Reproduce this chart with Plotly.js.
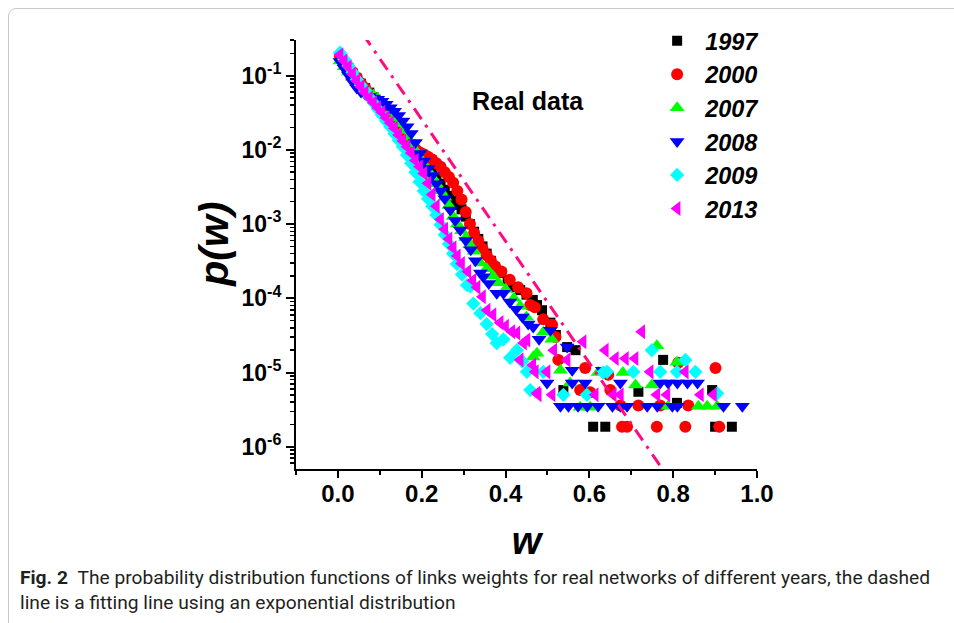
<!DOCTYPE html>
<html><head><meta charset="utf-8">
<script src="https://cdn.plot.ly/plotly-3.0.1.min.js"></script>
<style>
html,body{margin:0;padding:0;background:#fff;overflow:hidden;}
#frame{position:absolute;left:8px;top:8px;width:1000px;height:700px;border:1px solid #c8c8c8;border-radius:8px;}
#chart{position:absolute;left:0;top:0;width:954px;height:623px;}
</style></head>
<body><div id="frame"></div><div id="chart"></div>
<script>
// ---- data ----
const years = ['1997','2000','2007','2008','2009','2013'];

const w1997 = [0.005,0.015,0.025,0.035,0.045,0.055,0.065,0.075,0.085,0.095,0.105,0.115,0.125,0.135,0.145,0.155,0.165,0.175,0.185,0.195,0.205,0.215,0.225,0.235,0.245,0.255,0.265,0.275,0.285,0.295,0.305,0.315,0.325,0.335,0.345,0.355,0.365,0.375,0.39,0.405,0.418,0.435,0.45,0.465,0.475,0.487,0.507,0.52,0.538,0.547,0.567,0.609,0.638,0.717,0.776,0.809,0.893,0.900,0.940];
const p1997 = [1.74e-1,1.48e-1,1.26e-1,1.07e-1,9.1e-2,7.8e-2,6.8e-2,5.9e-2,5.1e-2,4.5e-2,3.9e-2,3.4e-2,2.9e-2,2.45e-2,2.04e-2,1.70e-2,1.41e-2,1.17e-2,9.8e-3,8.3e-3,7.1e-3,6.0e-3,5.0e-3,4.2e-3,3.5e-3,2.9e-3,2.4e-3,2.04e-3,1.82e-3,1.58e-3,1.26e-3,1.0e-3,7.9e-4,6.3e-4,5.0e-4,4.0e-4,3.2e-4,2.6e-4,2.2e-4,1.74e-4,1.41e-4,1.29e-4,1.12e-4,9.5e-5,8.1e-5,6.9e-5,4.7e-5,3.2e-5,5.8e-6,2.2e-5,2.0e-5,1.86e-6,1.86e-6,5.5e-6,1.48e-5,3.9e-6,5.8e-6,1.86e-6,1.86e-6];

const w2000 = [0.005,0.015,0.025,0.035,0.045,0.055,0.065,0.075,0.085,0.095,0.105,0.115,0.125,0.135,0.145,0.155,0.165,0.175,0.185,0.195,0.205,0.215,0.225,0.235,0.245,0.255,0.265,0.275,0.285,0.295,0.305,0.315,0.325,0.335,0.345,0.355,0.365,0.375,0.39,0.41,0.43,0.45,0.459,0.47,0.49,0.511,0.519,0.526,0.578,0.590,0.602,0.645,0.65,0.674,0.678,0.69,0.717,0.761,0.769,0.812,0.829,0.836,0.901,0.91];
const p2000 = [1.82e-1,1.55e-1,1.32e-1,1.12e-1,9.5e-2,7.9e-2,6.8e-2,5.75e-2,5.0e-2,4.4e-2,3.8e-2,3.3e-2,2.8e-2,2.4e-2,2.0e-2,1.66e-2,1.38e-2,1.17e-2,1.02e-2,9.3e-3,8.7e-3,8.1e-3,7.4e-3,6.6e-3,5.9e-3,5.0e-3,4.3e-3,3.6e-3,2.8e-3,2.14e-3,1.45e-3,1.0e-3,7.6e-4,5.9e-4,4.7e-4,3.8e-4,3.2e-4,2.7e-4,2.3e-4,1.78e-4,1.41e-4,1.17e-4,8.1e-5,7.6e-5,5.2e-5,4.4e-5,3.0e-5,1.48e-5,5.8e-6,1.15e-5,5.4e-6,9.3e-6,5.8e-6,3.6e-6,1.86e-6,1.86e-6,3.6e-6,1.86e-6,3.6e-6,1.35e-5,1.86e-6,3.6e-6,1.15e-5,1.86e-6];

const w2007 = [0.005,0.015,0.025,0.035,0.045,0.055,0.065,0.075,0.085,0.095,0.105,0.115,0.125,0.135,0.145,0.155,0.165,0.175,0.185,0.195,0.205,0.215,0.225,0.235,0.245,0.255,0.265,0.275,0.285,0.295,0.305,0.315,0.325,0.34,0.355,0.37,0.383,0.40,0.42,0.435,0.45,0.466,0.475,0.49,0.51,0.531,0.554,0.578,0.602,0.621,0.68,0.71,0.749,0.761,0.788,0.809,0.86,0.881,0.905];
const p2007 = [1.58e-1,1.32e-1,1.12e-1,9.5e-2,8.1e-2,7.1e-2,6.5e-2,5.9e-2,5.4e-2,4.9e-2,4.4e-2,3.8e-2,3.2e-2,2.7e-2,2.24e-2,1.82e-2,1.48e-2,1.20e-2,9.8e-3,7.9e-3,6.5e-3,5.25e-3,4.3e-3,3.5e-3,2.8e-3,2.3e-3,1.78e-3,1.26e-3,1.0e-3,8.1e-4,6.6e-4,5.25e-4,4.3e-4,3.0e-4,2.5e-4,2.0e-4,1.62e-4,1.32e-4,1.0e-4,7.8e-5,5.6e-5,1.62e-5,1.82e-5,3.5e-5,2.8e-5,1.07e-5,7.2e-6,3.4e-6,3.4e-6,1.0e-5,1.0e-5,6.8e-6,6.8e-6,2.3e-5,3.5e-6,1.38e-5,3.5e-6,3.5e-6,3.5e-6];

const w2008 = [0.005,0.015,0.025,0.035,0.045,0.055,0.065,0.075,0.085,0.095,0.105,0.115,0.125,0.135,0.145,0.155,0.165,0.175,0.185,0.195,0.205,0.215,0.225,0.235,0.245,0.255,0.268,0.28,0.292,0.305,0.317,0.328,0.34,0.347,0.36,0.379,0.395,0.41,0.425,0.44,0.454,0.466,0.48,0.499,0.507,0.531,0.547,0.55,0.559,0.559,0.573,0.59,0.595,0.621,0.631,0.655,0.674,0.674,0.69,0.738,0.762,0.769,0.788,0.798,0.81,0.81,0.834,0.858,0.92,0.965];
const p2008 = [1.55e-1,1.26e-1,1.02e-1,8.3e-2,6.8e-2,6.0e-2,5.6e-2,5.25e-2,5.0e-2,4.8e-2,4.5e-2,4.1e-2,3.7e-2,3.3e-2,2.9e-2,2.45e-2,2.04e-2,1.66e-2,1.26e-2,8.9e-3,7.1e-3,5.6e-3,4.5e-3,3.5e-3,2.8e-3,2.2e-3,1.55e-3,1.12e-3,8.3e-4,6.0e-4,4.5e-4,3.2e-4,2.2e-4,1.95e-4,1.58e-4,1.17e-4,1.17e-4,8.9e-5,7.1e-5,5.6e-5,4.5e-5,4.1e-5,2.8e-5,7.2e-6,3.7e-5,3.5e-6,2.2e-5,3.5e-6,7.2e-6,1.07e-5,3.5e-6,7.2e-6,3.5e-6,3.5e-6,1.07e-5,3.5e-6,3.5e-6,7.2e-6,3.5e-6,3.5e-6,3.5e-6,7.2e-6,7.2e-6,3.5e-6,3.5e-6,7.2e-6,7.2e-6,7.2e-6,3.5e-6,3.5e-6];

const w2009 = [0.005,0.015,0.025,0.035,0.045,0.055,0.065,0.075,0.085,0.095,0.105,0.115,0.125,0.135,0.145,0.155,0.165,0.175,0.185,0.195,0.205,0.215,0.225,0.235,0.245,0.255,0.265,0.275,0.284,0.296,0.308,0.316,0.323,0.34,0.355,0.368,0.379,0.395,0.411,0.427,0.44,0.451,0.459,0.49,0.538,0.594,0.633,0.642,0.705,0.749,0.769,0.809,0.829,0.853,0.905];
const p2009 = [2.04e-1,1.66e-1,1.35e-1,1.10e-1,8.9e-2,7.4e-2,6.2e-2,5.1e-2,4.3e-2,3.55e-2,2.95e-2,2.45e-2,2.04e-2,1.66e-2,1.35e-2,1.10e-2,8.5e-3,6.6e-3,5.0e-3,3.7e-3,2.8e-3,2.2e-3,1.74e-3,1.32e-3,9.8e-4,7.2e-4,5.4e-4,4.0e-4,2.9e-4,2.1e-4,1.5e-4,1.45e-4,8.5e-5,6.3e-5,4.5e-5,3.3e-5,2.5e-5,2.8e-5,1.58e-5,2.0e-5,1.41e-5,1.02e-5,5.8e-6,1.02e-5,5.0e-6,5.0e-6,1.0e-5,1.02e-5,1.02e-5,2.0e-5,1.02e-5,1.02e-5,1.48e-5,1.02e-5,5.25e-6];

const w2013 = [0.005,0.015,0.025,0.035,0.045,0.055,0.065,0.075,0.085,0.095,0.105,0.115,0.125,0.135,0.145,0.155,0.165,0.175,0.185,0.195,0.205,0.215,0.225,0.235,0.245,0.255,0.265,0.275,0.285,0.295,0.31,0.322,0.332,0.345,0.356,0.37,0.387,0.40,0.415,0.427,0.435,0.443,0.451,0.465,0.471,0.475,0.478,0.499,0.511,0.515,0.547,0.585,0.614,0.638,0.657,0.662,0.674,0.686,0.709,0.725,0.745,0.761,0.785,0.829,0.865,0.896];
const p2013 = [1.91e-1,1.58e-1,1.32e-1,1.05e-1,8.5e-2,7.1e-2,5.9e-2,5.0e-2,4.3e-2,3.7e-2,3.2e-2,2.7e-2,2.3e-2,1.95e-2,1.58e-2,1.32e-2,1.10e-2,9.1e-3,7.2e-3,5.9e-3,4.8e-3,3.55e-3,2.5e-3,1.74e-3,1.15e-3,8.5e-4,6.3e-4,4.8e-4,3.7e-4,2.95e-4,2.3e-4,1.74e-4,1.41e-4,1.05e-4,6.9e-5,6.0e-5,4.7e-5,4.2e-5,3.55e-5,3.4e-5,1.48e-5,2.5e-5,2.75e-5,1.26e-5,1.02e-5,5.25e-6,5.0e-6,1.02e-5,5.0e-6,2.0e-5,1.48e-5,2.6e-5,5.0e-6,2.0e-5,5.0e-6,1.55e-5,5.0e-6,1.55e-5,1.55e-5,3.55e-5,1.02e-5,5.0e-6,5.0e-6,1.02e-5,5.0e-6,5.0e-6];

// exponential fit line (end points)
const fitW = [0.06, 0.78];
const fitP = [3.6e-1, 4.5e-7];

const xTickVals = [0, 0.2, 0.4, 0.6, 0.8, 1.0];
const xTickText = ['0.0', '0.2', '0.4', '0.6', '0.8', '1.0'];
const yTickVals = [1e-6, 1e-5, 1e-4, 1e-3, 1e-2, 1e-1];
const yTickText = ['10<sup>-6</sup>', '10<sup>-5</sup>', '10<sup>-4</sup>', '10<sup>-3</sup>', '10<sup>-2</sup>', '10<sup>-1</sup>'];

// ---- styling ----
const FONT = 'Liberation Sans, Arial, sans-serif';
function series(name, w, p, symbol, color, size) {
  return {type: 'scatter', mode: 'markers', x: w, y: p, name: name,
    marker: {symbol: symbol, color: color, size: size, line: {width: 0}}};
}
const data = [
  series(years[0], w1997, p1997, 'square', '#000000', 10),
  series(years[1], w2000, p2000, 'circle', '#FF0000', 12),
  series(years[2], w2007, p2007, 'triangle-up', '#00FF00', 13),
  series(years[3], w2008, p2008, 'triangle-down', '#0000FF', 13),
  series(years[4], w2009, p2009, 'diamond', '#00FFFF', 11),
  series(years[5], w2013, p2013, 'triangle-left', '#FF00FF', 13),
  {type: 'scatter', mode: 'lines', x: fitW, y: fitP, showlegend: false,
   line: {color: '#FF0A84', width: 3, dash: '13px,7px,3px,7px'}}
];

const layout = {
  width: 954, height: 623,
  margin: {l: 296, r: 197, t: 40, b: 154},
  paper_bgcolor: 'rgba(0,0,0,0)', plot_bgcolor: 'rgba(0,0,0,0)',
  showlegend: true,
  legend: {x: 0.766, xanchor: 'left', y: 1.049, yanchor: 'top', bgcolor: 'rgba(0,0,0,0)',
    itemwidth: 46, tracegroupgap: 0,
    font: {family: FONT, size: 23.5, color: '#000', weight: 'bold', style: 'italic'}},
  xaxis: {range: [-0.1, 1.0], tickmode: 'array', tickvals: xTickVals, ticktext: xTickText,
    ticks: 'outside', ticklen: 7, tickwidth: 2, tickcolor: '#000', ticklabelstandoff: -5,
    showline: true, linewidth: 2, linecolor: '#000', showgrid: false, zeroline: false,
    tickfont: {family: FONT, size: 24, color: '#000', weight: 'bold'},
    minor: {tickmode: 'linear', tick0: 0, dtick: 0.1, ticks: 'outside', ticklen: 4, tickwidth: 2, tickcolor: '#000', showgrid: false},
    title: {text: 'w', standoff: 22, font: {family: FONT, size: 38, color: '#000', weight: 'bold', style: 'italic'}}},
  yaxis: {type: 'log', range: [-6.3, -0.52], tickmode: 'array', tickvals: yTickVals, ticktext: yTickText,
    ticks: 'outside', ticklen: 8, tickwidth: 2, tickcolor: '#000',
    showline: true, linewidth: 2, linecolor: '#000', showgrid: false, zeroline: false,
    tickfont: {family: FONT, size: 23, color: '#000', weight: 'bold'},
    minor: {tickmode: 'linear', dtick: 'D1', ticks: 'outside', ticklen: 4, tickwidth: 1.5, tickcolor: '#000', showgrid: false}},
  annotations: [
    {xref: 'paper', yref: 'paper', x: -0.178, y: 0.525, xanchor: 'center', yanchor: 'middle',
     textangle: -90, text: 'p(w)', showarrow: false,
     font: {family: FONT, size: 41, color: '#000', weight: 'bold', style: 'italic'}},
    {xref: 'paper', yref: 'paper', x: 0.503, y: 0.858, xanchor: 'center', yanchor: 'middle',
     text: 'Real data', showarrow: false,
     font: {family: FONT, size: 25, color: '#000', weight: 'bold'}},
    {xref: 'paper', yref: 'paper', x: -0.603, y: -0.254, xanchor: 'left', yanchor: 'middle', showarrow: false,
     text: '<b>Fig. 2</b>&nbsp;&nbsp;The probability distribution functions of links weights for real networks of different years, the dashed',
     font: {family: 'Roboto, sans-serif', size: 19.2, color: '#231f20'}},
    {xref: 'paper', yref: 'paper', x: -0.603, y: -0.312, xanchor: 'left', yanchor: 'middle', showarrow: false,
     text: 'line is a fitting line using an exponential distribution',
     font: {family: 'Roboto, sans-serif', size: 19.2, color: '#231f20'}}
  ]
};
Plotly.newPlot('chart', data, layout, {staticPlot: true, displayModeBar: false});
</script></body></html>
